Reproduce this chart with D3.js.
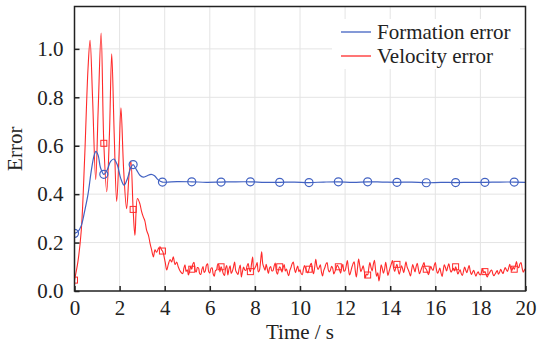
<!DOCTYPE html>
<html>
<head>
<meta charset="utf-8">
<script src="https://cdn.jsdelivr.net/npm/d3@7"></script>
<style>
  body { margin: 0; background: #fff; }
</style>
</head>
<body>
<div id="vis"></div>
<script>
// Formation error: [time, value]
const formationHead = [
  [0, 0.238], [0.15, 0.245], [0.3, 0.27], [0.45, 0.33], [0.6, 0.40], [0.75, 0.50],
  [0.87, 0.56], [0.95, 0.577], [1.05, 0.56], [1.15, 0.51], [1.3, 0.482], [1.45, 0.50],
  [1.6, 0.535], [1.75, 0.545], [1.9, 0.52], [2.05, 0.465], [2.2, 0.437], [2.35, 0.465],
  [2.5, 0.51], [2.6, 0.522], [2.75, 0.50], [2.9, 0.478], [3.05, 0.47], [3.2, 0.475],
  [3.4, 0.482], [3.55, 0.476], [3.7, 0.46], [3.9, 0.45]
];
const formationTailTimes = [4.55, 5.2, 5.85, 6.5, 7.15, 7.8, 8.45, 9.1, 9.75, 10.4, 11.05, 11.7,
  12.35, 13.0, 13.65, 14.3, 14.95, 15.6, 16.25, 16.9, 17.55, 18.2, 18.85, 19.5, 20];
const formationTail = [0.452, 0.451, 0.449, 0.450, 0.451, 0.451, 0.449, 0.449, 0.450, 0.448, 0.450, 0.451,
  0.449, 0.451, 0.450, 0.449, 0.450, 0.447, 0.449, 0.448, 0.449, 0.449, 0.450, 0.450, 0.449];

// Velocity error: [time, value] for the transient, then a 0.05 s sampled tail
const velocityHead = [
  [0, 0.045], [0.15, 0.12], [0.3, 0.25], [0.45, 0.55], [0.6, 0.92], [0.69, 1.035],
  [0.8, 0.80], [0.94, 0.46], [1.05, 0.75], [1.18, 1.065], [1.3, 0.61], [1.43, 0.41],
  [1.55, 0.65], [1.65, 0.98], [1.76, 0.65], [1.87, 0.37], [1.97, 0.55], [2.06, 0.757],
  [2.18, 0.50], [2.31, 0.34], [2.42, 0.48], [2.5, 0.537], [2.6, 0.337], [2.68, 0.23],
  [2.79, 0.382], [2.9, 0.36], [2.97, 0.33], [3.05, 0.306], [3.12, 0.29], [3.2, 0.25],
  [3.28, 0.23], [3.35, 0.197], [3.42, 0.17], [3.5, 0.141], [3.57, 0.17], [3.64, 0.16],
  [3.72, 0.175], [3.79, 0.183], [3.86, 0.17], [3.9, 0.165], [3.94, 0.155], [4.02, 0.12],
  [4.09, 0.087], [4.16, 0.11], [4.24, 0.13], [4.31, 0.12], [4.38, 0.141], [4.46, 0.11],
  [4.53, 0.12], [4.6, 0.10], [4.7, 0.08]
];
const velocityTailStart = 4.8;
const velocityTailStep = 0.05;
// one row per second, starting at 4.8 s
const velocityTail = [
  0.072, 0.094, 0.108, 0.081, 0.088, 0.066, 0.079, 0.101, 0.090, 0.112, 0.118, 0.085, 0.079, 0.097, 0.095, 0.072, 0.068, 0.089, 0.101, 0.077,
  0.083, 0.106, 0.112, 0.080, 0.074, 0.093, 0.096, 0.070, 0.061, 0.084, 0.087, 0.110, 0.108, 0.079, 0.100, 0.088, 0.071, 0.064, 0.093, 0.105,
  0.066, 0.090, 0.104, 0.073, 0.082, 0.099, 0.120, 0.084, 0.075, 0.068, 0.092, 0.107, 0.058, 0.081, 0.099, 0.087, 0.085, 0.103, 0.113, 0.090,
  0.080, 0.112, 0.140, 0.088, 0.095, 0.104, 0.118, 0.079, 0.085, 0.121, 0.162, 0.112, 0.098, 0.086, 0.110, 0.091, 0.072, 0.095, 0.101, 0.083,
  0.084, 0.102, 0.115, 0.081, 0.069, 0.088, 0.100, 0.092, 0.078, 0.097, 0.109, 0.083, 0.091, 0.074, 0.063, 0.085, 0.097, 0.112, 0.120, 0.094,
  0.076, 0.091, 0.103, 0.080, 0.088, 0.072, 0.067, 0.089, 0.105, 0.093, 0.082, 0.075, 0.090, 0.106, 0.114, 0.088, 0.071, 0.098, 0.131, 0.102,
  0.089, 0.097, 0.108, 0.079, 0.062, 0.084, 0.096, 0.111, 0.118, 0.090, 0.079, 0.086, 0.102, 0.094, 0.070, 0.081, 0.093, 0.107, 0.100, 0.088,
  0.074, 0.095, 0.110, 0.082, 0.085, 0.104, 0.126, 0.090, 0.066, 0.079, 0.098, 0.112, 0.121, 0.085, 0.058, 0.094, 0.132, 0.105, 0.080, 0.091,
  0.104, 0.082, 0.055, 0.070, 0.066, 0.094, 0.118, 0.097, 0.083, 0.109, 0.127, 0.088, 0.061, 0.075, 0.042, 0.068, 0.108, 0.093, 0.074, 0.089,
  0.119, 0.092, 0.064, 0.081, 0.097, 0.112, 0.126, 0.095, 0.081, 0.098, 0.110, 0.087, 0.069, 0.085, 0.104, 0.092, 0.076, 0.098, 0.121, 0.099,
  0.088, 0.075, 0.062, 0.087, 0.109, 0.094, 0.079, 0.101, 0.114, 0.090, 0.071, 0.083, 0.096, 0.107, 0.118, 0.095, 0.090, 0.078, 0.067, 0.085,
  0.102, 0.091, 0.085, 0.104, 0.117, 0.089, 0.073, 0.082, 0.095, 0.076, 0.060, 0.084, 0.108, 0.097, 0.083, 0.099, 0.112, 0.091, 0.078, 0.086,
  0.094, 0.083, 0.100, 0.087, 0.070, 0.079, 0.088, 0.072, 0.064, 0.081, 0.099, 0.086, 0.076, 0.091, 0.105, 0.082, 0.068, 0.077, 0.086, 0.073,
  0.061, 0.072, 0.079, 0.070, 0.066, 0.078, 0.092, 0.075, 0.080, 0.069, 0.058, 0.067, 0.074, 0.083, 0.087, 0.071, 0.063, 0.070, 0.078, 0.084,
  0.069, 0.077, 0.090, 0.080, 0.072, 0.085, 0.097, 0.088, 0.081, 0.094, 0.110, 0.092, 0.085, 0.099, 0.090, 0.104, 0.122, 0.101, 0.096, 0.112,
  0.118, 0.095, 0.078, 0.086, 0.092
];

// Markers sit every 1.3 s on both curves
const markerTimes = [0, 1.3, 2.6, 3.9, 5.2, 6.5, 7.8, 9.1, 10.4, 11.7, 13.0, 14.3, 15.6, 16.9, 18.2, 19.5];

const xTicks = [0, 2, 4, 6, 8, 10, 12, 14, 16, 18, 20];
const yTicks = [0, 0.2, 0.4, 0.6, 0.8, 1.0];
const seriesNames = ['Formation error', 'Velocity error'];
const seriesColors = ['#4262c2', '#ff2a2a'];

const serif = "'Liberation Serif', 'DejaVu Serif', serif";
const fontSize = 21;

const formation = formationHead.concat(formationTailTimes.map((t, i) => [t, formationTail[i]]));
const velocity = velocityHead.concat(velocityTail.map((v, i) => [velocityTailStart + i * velocityTailStep, v]));

function markersOf(series) {
  return markerTimes
    .map(mt => series.find(p => Math.abs(p[0] - mt) < 0.01))
    .filter(p => p);
}

const width = 537, height = 344;
const plotLeft = 74.5, plotRight = 525.5, plotTop = 6.5, plotBottom = 291;

const svg = d3.select('#vis')
  .append('svg')
  .attr('width', width)
  .attr('height', height);

const x = d3.scaleLinear().domain([0, 20]).range([plotLeft, plotRight]);
const y = d3.scaleLinear().domain([0, 1.175]).range([plotBottom, plotTop]);

// grid
svg.append('g')
  .selectAll('line')
  .data(xTicks.slice(1, -1))
  .enter()
  .append('line')
  .attr('x1', d => x(d)).attr('x2', d => x(d))
  .attr('y1', plotTop).attr('y2', plotBottom)
  .attr('stroke', '#e4e4e4');

svg.append('g')
  .selectAll('line')
  .data(yTicks.slice(1))
  .enter()
  .append('line')
  .attr('x1', plotLeft).attr('x2', plotRight)
  .attr('y1', d => y(d)).attr('y2', d => y(d))
  .attr('stroke', '#e4e4e4');

svg.append('clipPath')
  .attr('id', 'plot-clip')
  .append('rect')
  .attr('x', plotLeft).attr('y', plotTop)
  .attr('width', plotRight - plotLeft).attr('height', plotBottom - plotTop);

const line = d3.line()
  .x(d => x(d[0]))
  .y(d => y(d[1]))
  .curve(d3.curveCatmullRom.alpha(0.5));

const plot = svg.append('g').attr('clip-path', 'url(#plot-clip)');

plot.append('path')
  .datum(velocity)
  .attr('d', line)
  .attr('fill', 'none')
  .attr('stroke', seriesColors[1])
  .attr('stroke-width', 1.1);

plot.append('path')
  .datum(formation)
  .attr('d', line)
  .attr('fill', 'none')
  .attr('stroke', seriesColors[0])
  .attr('stroke-width', 1.2);

// markers
plot.selectAll('.sq')
  .data(markersOf(velocity))
  .enter()
  .append('rect')
  .attr('class', 'sq')
  .attr('x', d => x(d[0]) - 3)
  .attr('y', d => y(d[1]) - 3)
  .attr('width', 6).attr('height', 6)
  .attr('fill', 'none')
  .attr('stroke', seriesColors[1])
  .attr('stroke-width', 1);

plot.selectAll('.circ')
  .data(markersOf(formation))
  .enter()
  .append('circle')
  .attr('class', 'circ')
  .attr('cx', d => x(d[0]))
  .attr('cy', d => y(d[1]))
  .attr('r', 4)
  .attr('fill', 'none')
  .attr('stroke', seriesColors[0])
  .attr('stroke-width', 1.2);

// axes, ticks inside
svg.append('g')
  .attr('transform', `translate(0,${plotBottom})`)
  .call(d3.axisBottom(x).tickValues(xTicks).tickSizeInner(-5).tickSizeOuter(0).tickPadding(9))
  .attr('font-family', serif)
  .attr('font-size', fontSize)
  .call(g => g.select('.domain').remove())
  .call(g => g.selectAll('line').attr('stroke', '#222').attr('stroke-width', 1.5))
  .call(g => g.selectAll('text').attr('fill', '#222'));

svg.append('g')
  .attr('transform', `translate(${plotLeft},0)`)
  .call(d3.axisLeft(y).tickValues(yTicks).tickFormat(d3.format('.1f')).tickSizeInner(-5).tickSizeOuter(0).tickPadding(11))
  .attr('font-family', serif)
  .attr('font-size', fontSize)
  .call(g => g.select('.domain').remove())
  .call(g => g.selectAll('line').attr('stroke', '#222').attr('stroke-width', 1.5))
  .call(g => g.selectAll('text').attr('fill', '#222'));

// frame
svg.append('rect')
  .attr('x', plotLeft).attr('y', plotTop)
  .attr('width', plotRight - plotLeft).attr('height', plotBottom - plotTop)
  .attr('fill', 'none')
  .attr('stroke', '#222')
  .attr('stroke-width', 1.5);

// axis titles
svg.append('text')
  .attr('x', (plotLeft + plotRight) / 2)
  .attr('y', 338.5)
  .attr('text-anchor', 'middle')
  .attr('font-family', serif)
  .attr('font-size', fontSize)
  .attr('fill', '#222')
  .text('Time / s');

svg.append('text')
  .attr('transform', `translate(22,${(plotTop + plotBottom) / 2}) rotate(-90)`)
  .attr('text-anchor', 'middle')
  .attr('font-family', serif)
  .attr('font-size', fontSize)
  .attr('fill', '#222')
  .text('Error');

// legend
const legend = svg.append('g');
legend.append('rect')
  .attr('x', 332).attr('y', 19)
  .attr('width', 188).attr('height', 50)
  .attr('fill', '#fff');

legend.selectAll('line')
  .data(seriesNames)
  .enter()
  .append('line')
  .attr('x1', 341).attr('x2', 371)
  .attr('y1', (d, i) => 32 + i * 24).attr('y2', (d, i) => 32 + i * 24)
  .attr('stroke', (d, i) => seriesColors[i])
  .attr('stroke-width', 1.3);

legend.selectAll('text')
  .data(seriesNames)
  .enter()
  .append('text')
  .attr('x', 377)
  .attr('y', (d, i) => 39 + i * 24)
  .attr('font-family', serif)
  .attr('font-size', fontSize)
  .attr('fill', '#222')
  .text(d => d);
</script>
</body>
</html>
